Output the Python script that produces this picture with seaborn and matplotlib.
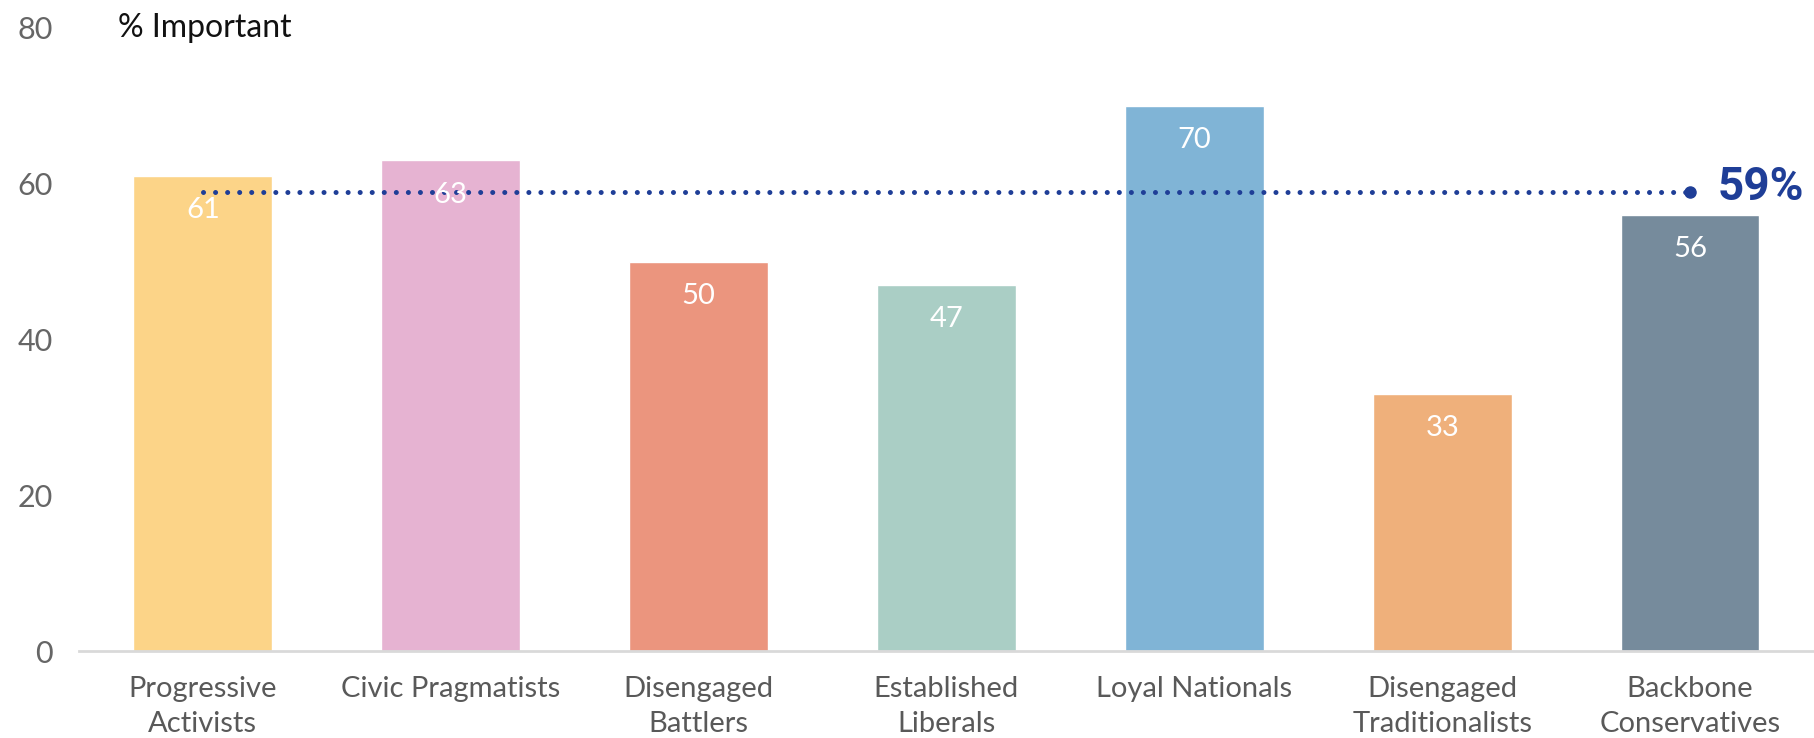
import matplotlib
matplotlib.use("Agg")
import matplotlib.pyplot as plt
import seaborn as sns
import pandas as pd

# Chart data
categories = ["Progressive\nActivists", "Civic Pragmatists", "Disengaged\nBattlers",
              "Established\nLiberals", "Loyal Nationals", "Disengaged\nTraditionalists",
              "Backbone\nConservatives"]
values = [61, 63, 50, 47, 70, 33, 56]
average = 59
bar_colors = ["#FCD488", "#E6B3D2", "#EB957E", "#AACEC5", "#80B4D6", "#EFB07B", "#768B9C"]
y_ticks = [0, 20, 40, 60, 80]

sns.set_theme(style="white")
plt.rcParams['font.family'] = ['Lato', 'DejaVu Sans']

df = pd.DataFrame({"group": categories, "pct": values})

fig = plt.figure(figsize=(18.14, 7.38), dpi=100)
ax = fig.add_axes([0.0435, 0.1173, 0.9565, 0.845])

sns.barplot(data=df, x="group", y="pct", hue="group", palette=bar_colors,
            width=0.56, legend=False, saturation=1, ax=ax)

# value labels inside the bars
for i, v in enumerate(values):
    ax.text(i, v - 4.4, str(v), ha="center", va="center", color="white",
            fontsize=21)

# average line
blue = "#1F3E97"
ax.plot([0, len(values) - 1], [average, average], color=blue, linewidth=3.6,
        linestyle=(0, (0.01, 2.4)), dash_capstyle="round")
ax.plot([len(values) - 1], [average], "o", color=blue, markersize=8)
ax.annotate(f"{average}%", xy=(len(values) - 1, average), xytext=(20, 3),
            textcoords="offset points", ha="left", va="center",
            color=blue, fontsize=33, fontweight="bold",
            family=["Roboto", "DejaVu Sans"])

ax.annotate("% Important", xy=(0.0225, 80), xycoords=("axes fraction", "data"),
            ha="left", va="center", fontsize=23, color="#111111",
            annotation_clip=False)

ax.set_ylim(0, 80)
ax.set_xlim(-0.5, len(values) - 0.5)
ax.set_yticks(y_ticks)
ax.set_xlabel("")
ax.set_ylabel("")
ax.tick_params(axis="y", length=0, pad=19, labelsize=22, labelcolor="#666666")
ax.tick_params(axis="x", length=0, pad=18, labelsize=21, labelcolor="#595959")
for lab in ax.get_xticklabels():
    lab.set_linespacing(1.4)

for side in ["top", "right", "left"]:
    ax.spines[side].set_visible(False)
ax.spines["bottom"].set_color("#D9D9D9")
ax.spines["bottom"].set_linewidth(2)

fig.savefig("out.png", dpi=100)
